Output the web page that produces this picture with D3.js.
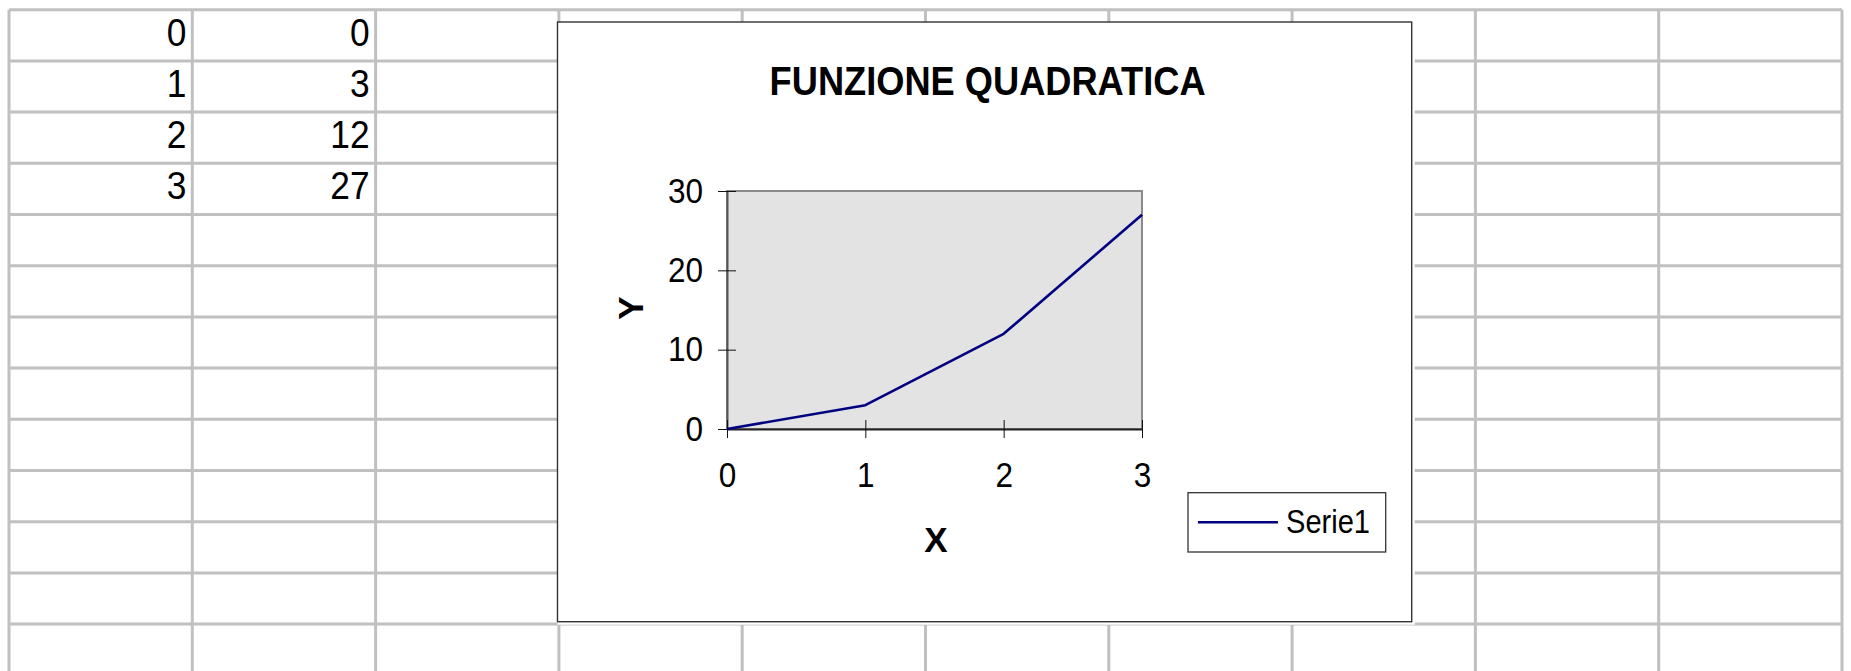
<!DOCTYPE html>
<html>
<head>
  <meta charset="utf-8">
  <title>Funzione quadratica</title>
  <script src="https://d3js.org/d3.v7.min.js"></script>
  <style>
    body { margin: 0; background: #fff; }
    text { font-family: "Liberation Sans", Arial, sans-serif; }
  </style>
</head>
<body>
<script>
// data (same values as the spreadsheet cells)
var xValues = [0, 1, 2, 3];
var yValues = [0, 3, 12, 27];
var xTicks = [0, 1, 2, 3];
var yTicks = [0, 10, 20, 30];
var seriesName = "Serie1";
var chartTitle = "FUNZIONE QUADRATICA";

var width = 1851, height = 671;

var svg = d3.select("body").append("svg")
  .attr("width", width).attr("height", height);

// the original font is a narrow helvetica: squeeze the glyphs a bit
function condense(sel, k) {
  sel.each(function() {
    var l = this.getComputedTextLength();
    d3.select(this).attr("textLength", l * k).attr("lengthAdjust", "spacingAndGlyphs");
  });
}

// spreadsheet grid
var gridLeft = 9, colW = 183.3, gridTop = 9.7, rowH = 51.2;
var nCols = 10, nRows = 13;

var grid = svg.append("g");
d3.range(nCols + 1).forEach(function(i) {
  grid.append("line")
    .attr("x1", gridLeft + i * colW).attr("x2", gridLeft + i * colW)
    .attr("y1", gridTop).attr("y2", height)
    .attr("stroke", "#c0c0c0").attr("stroke-width", 3);
});
d3.range(nRows).forEach(function(i) {
  grid.append("line")
    .attr("x1", gridLeft).attr("x2", gridLeft + nCols * colW)
    .attr("y1", gridTop + i * rowH).attr("y2", gridTop + i * rowH)
    .attr("stroke", "#c0c0c0").attr("stroke-width", 3);
});

// cell values
xValues.forEach(function(v, i) {
  grid.append("text").attr("class", "cell")
    .attr("x", gridLeft + colW - 6).attr("y", gridTop + i * rowH + 36)
    .attr("text-anchor", "end").attr("font-size", "38px")
    .text(v);
  grid.append("text").attr("class", "cell")
    .attr("x", gridLeft + 2 * colW - 6).attr("y", gridTop + i * rowH + 36)
    .attr("text-anchor", "end").attr("font-size", "38px")
    .text(yValues[i]);
});
condense(grid.selectAll("text.cell"), 0.93);

// chart object
var box = { left: 557.5, top: 22, right: 1411.7, bottom: 621.7 };
svg.append("rect")
  .attr("x", box.left).attr("y", box.top)
  .attr("width", box.right - box.left + 3).attr("height", box.bottom - box.top + 3)
  .attr("fill", "#fff");
svg.append("rect")
  .attr("x", box.left).attr("y", box.top)
  .attr("width", box.right - box.left).attr("height", box.bottom - box.top)
  .attr("fill", "#fff").attr("stroke", "#333").attr("stroke-width", 1.4);

svg.append("text")
  .attr("x", (box.left + box.right) / 2 + 3).attr("y", 95)
  .attr("text-anchor", "middle")
  .attr("font-size", "40px").attr("font-weight", "bold")
  .attr("textLength", 436).attr("lengthAdjust", "spacingAndGlyphs")
  .text(chartTitle);

// plot area
var plot = { left: 727, right: 1142, top: 191, bottom: 429 };

var xScale = d3.scaleLinear().domain([0, 3]).range([plot.left, plot.right]);
var yScale = d3.scaleLinear().domain([0, 30]).range([plot.bottom, plot.top]);

svg.append("rect")
  .attr("x", plot.left).attr("y", plot.top)
  .attr("width", plot.right - plot.left).attr("height", plot.bottom - plot.top)
  .attr("fill", "#e3e3e3").attr("stroke", "#8a8a8a").attr("stroke-width", 2);

var axisy = d3.axisLeft(yScale).tickValues(yTicks).tickFormat(d3.format("d"))
  .tickSizeInner(9).tickSizeOuter(0).tickPadding(15);
var gy = svg.append("g")
  .attr("transform", "translate(" + plot.left + ",0)")
  .call(axisy);
gy.select(".domain").attr("stroke", "#555").attr("stroke-width", 2);
gy.selectAll(".tick line").attr("x1", 9).attr("stroke", "#111");
gy.selectAll(".tick text").attr("font-size", "35px").attr("font-family", "Liberation Sans, Arial, sans-serif").attr("fill", "#000");
condense(gy.selectAll(".tick text"), 0.9);

var axisx = d3.axisBottom(xScale).tickValues(xTicks).tickFormat(d3.format("d"))
  .tickSizeInner(9).tickSizeOuter(0).tickPadding(24);
var gx = svg.append("g")
  .attr("transform", "translate(0," + plot.bottom + ")")
  .call(axisx);
gx.select(".domain").attr("stroke", "#222").attr("stroke-width", 2);
gx.selectAll(".tick line").attr("y1", -9).attr("stroke", "#111");
gx.selectAll(".tick text").attr("font-size", "35px").attr("font-family", "Liberation Sans, Arial, sans-serif").attr("fill", "#000");
condense(gx.selectAll(".tick text"), 0.9);

// axis titles
svg.append("text")
  .attr("x", (plot.left + plot.right) / 2 + 1.5).attr("y", 552)
  .attr("text-anchor", "middle")
  .attr("font-size", "35px").attr("font-weight", "bold")
  .text("X");

svg.append("text")
  .attr("transform", "translate(643," + ((plot.top + plot.bottom) / 2 - 2) + ") rotate(-90)")
  .attr("text-anchor", "middle")
  .attr("font-size", "35px").attr("font-weight", "bold")
  .text("Y");

// series line
var dataset = xValues.map(function(x, i) { return { x: x, y: yValues[i] }; });
var line = d3.line()
  .x(function(d) { return xScale(d.x); })
  .y(function(d) { return yScale(d.y); });

svg.append("path")
  .datum(dataset)
  .attr("fill", "none")
  .attr("stroke", "#000080")
  .attr("stroke-width", 2.6)
  .attr("stroke-linejoin", "round")
  .attr("d", line);

// legend
var legend = svg.append("g").attr("transform", "translate(1188,492.7)");
legend.append("rect")
  .attr("width", 197.7).attr("height", 59.3)
  .attr("fill", "#fff").attr("stroke", "#333").attr("stroke-width", 1.3);
legend.append("line")
  .attr("x1", 10).attr("x2", 90).attr("y1", 29.6).attr("y2", 29.6)
  .attr("stroke", "#000080").attr("stroke-width", 2.6);
legend.append("text")
  .attr("x", 98).attr("y", 40.5)
  .attr("font-size", "33px")
  .attr("textLength", 84).attr("lengthAdjust", "spacingAndGlyphs")
  .text(seriesName);
</script>
</body>
</html>
